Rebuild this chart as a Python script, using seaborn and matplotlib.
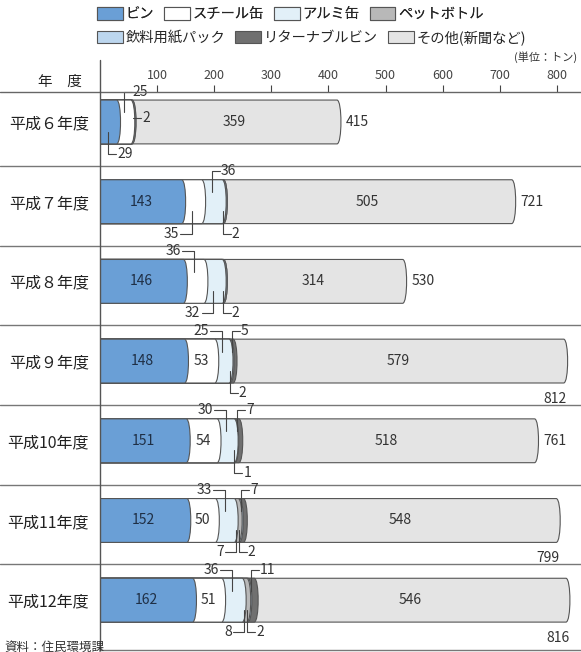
import matplotlib
matplotlib.use("Agg")
import matplotlib.pyplot as plt
import seaborn as sns
import pandas as pd
from matplotlib.patches import Patch, PathPatch, Rectangle
from matplotlib.path import Path
from matplotlib.lines import Line2D
from matplotlib.transforms import blended_transform_factory

# ---------------- data ----------------
years = ["平成６年度", "平成７年度", "平成８年度", "平成９年度", "平成10年度", "平成11年度", "平成12年度"]
series = ["ビン", "スチール缶", "アルミ缶", "ペットボトル", "飲料用紙パック", "リターナブルビン", "その他(新聞など)"]
bin_vals = [29, 143, 146, 148, 151, 152, 162]
steel_vals = [25, 35, 36, 53, 54, 50, 51]
alumi_vals = [0, 36, 32, 25, 30, 33, 36]
pet_vals = [0, 0, 0, 0, 0, 7, 8]
pack_vals = [2, 2, 2, 2, 1, 2, 2]
returnable_vals = [0, 0, 0, 5, 7, 7, 11]
other_vals = [359, 505, 314, 579, 518, 548, 546]
totals = [415, 721, 530, 812, 761, 799, 816]
ticks = [100, 200, 300, 400, 500, 600, 700, 800]

vals = [bin_vals, steel_vals, alumi_vals, pet_vals, pack_vals, returnable_vals, other_vals]
colors = ["#6a9fd6", "#ffffff", "#e2f0f8", "#b8b8b8", "#bcd6ee", "#707070", "#e4e4e4"]

# ---------------- figure ----------------
sns.set_style("white")
plt.rcParams["font.family"] = ["Noto Sans CJK JP", "DejaVu Sans"]

W, H = 581, 652
fig = plt.figure(figsize=(W / 100, H / 100), dpi=100)
ax = fig.add_axes([100 / W, 1 - 650 / H, 1 - 100 / W, (650 - 92) / H])

df = pd.DataFrame({"year": years})
cum = [0] * len(years)
cums = []
for k in range(len(series)):
    cum = [c + v for c, v in zip(cum, vals[k])]
    cums.append(cum)
for k in range(len(series) - 1, -1, -1):
    df["cum"] = cums[k]
    sns.barplot(data=df, x="cum", y="year", orient="h", color=colors[k],
                saturation=1, edgecolor="#555555", linewidth=0.8, width=0.55, ax=ax)

# give every bar a rounded (cylinder-like) right end
BULGE = 7.0
rects = [p for p in ax.patches if isinstance(p, Rectangle)]
for order, p in enumerate(rects):
    x0, y0, w, h = p.get_x(), p.get_y(), p.get_width(), p.get_height()
    x1 = x0 + w
    verts = [(x0, y0), (x1, y0), (x1 + BULGE * 1.33, y0), (x1 + BULGE * 1.33, y0 + h),
             (x1, y0 + h), (x0, y0 + h), (x0, y0)]
    codes = [Path.MOVETO, Path.LINETO, Path.CURVE4, Path.CURVE4, Path.CURVE4,
             Path.LINETO, Path.CLOSEPOLY]
    pp = PathPatch(Path(verts, codes), facecolor=p.get_facecolor(), edgecolor=p.get_edgecolor(),
                   linewidth=p.get_linewidth(), zorder=p.get_zorder() + order * 1e-3)
    p.remove()
    ax.add_patch(pp)

XMAX = 481 / 0.571
ax.set_xlim(0, XMAX)
ax.set_ylim(6.625, -0.376)
ax.set_xlabel("")
ax.set_ylabel("")
ax.xaxis.tick_top()
ax.set_xticks(ticks)
ax.set_xticklabels([str(t) for t in ticks])
ax.tick_params(axis="x", direction="out", length=5, width=0.8, colors="#444444",
               labelsize=9, pad=2, top=True, bottom=False)
ax.tick_params(axis="y", length=0, labelsize=11.5, pad=8, labelcolor="#222222")
for s in ["top", "right", "bottom"]:
    ax.spines[s].set_visible(False)
ax.spines["left"].set_color("#555555")
ax.spines["left"].set_linewidth(1)

# separators
trans = blended_transform_factory(fig.transFigure, ax.transData)
for k in range(len(years) - 1):
    ax.plot([0, 1], [k + 0.55, k + 0.55], transform=trans, color="#777777", lw=1, clip_on=False)
ax.plot([100 / W, 1], [6.62, 6.62], transform=trans, color="#777777", lw=1, clip_on=False)
fig.add_artist(Line2D([0, 1], [1 - 92 / H, 1 - 92 / H], color="#666666", lw=1))
fig.add_artist(Line2D([100 / W, 100 / W], [1 - 60 / H, 1 - 92 / H], color="#555555", lw=1))

# ---------------- labels ----------------
tc = "#333333"
fs = 10
for i in range(len(years)):
    lefts = [0]
    for k in range(len(series)):
        lefts.append(lefts[-1] + vals[k][i])
    ax.text((lefts[6] + lefts[7]) / 2, i, str(other_vals[i]), ha="center", va="center", fontsize=fs, color=tc)
    if i >= 1:
        ax.text(bin_vals[i] / 2, i, str(bin_vals[i]), ha="center", va="center", fontsize=fs, color="#1f2f45")
    if i >= 3:
        ax.text(lefts[1] + steel_vals[i] / 2 + 3, i, str(steel_vals[i]), ha="center", va="center", fontsize=fs, color=tc)

below_total = [3, 5, 6]
for i, t in enumerate(totals):
    if i in below_total:
        ax.text(t + 6, i + 0.47, str(t), ha="right", va="center", fontsize=fs, color=tc)
    else:
        ax.text(t + 16, i, str(t), ha="left", va="center", fontsize=fs, color=tc)

leaders = [
    (0, 1, "top", "right"), (0, 4, "mid", "right"), (0, 0, "bottom", "right"),
    (1, 2, "top", "right"), (1, 1, "bottom", "left"), (1, 4, "bottom", "right"),
    (2, 1, "top", "left"), (2, 2, "bottom", "left"), (2, 4, "bottom", "right"),
    (3, 2, "top", "left"), (3, 5, "top", "right"), (3, 4, "bottom", "right"),
    (4, 2, "top", "left"), (4, 5, "top", "right"), (4, 4, "bottom", "right"),
    (5, 2, "top", "left"), (5, 5, "top", "right"), (5, 3, "bottom", "left"), (5, 4, "bottom", "right"),
    (6, 2, "top", "left"), (6, 5, "top", "right"), (6, 3, "bottom", "left"), (6, 4, "bottom", "right"),
]
lc = "#444444"
for i, k, side, d in leaders:
    left = sum(vals[j][i] for j in range(k))
    xm = left + vals[k][i] / 2
    v = vals[k][i]
    L = 14 if d == "right" else 20
    x2 = xm + L if d == "right" else xm - L
    if side == "mid":
        yl = i - 0.05
        ax.plot([xm + 3, x2 + 3], [yl, yl], color=lc, lw=0.8, zorder=5)
        x2 = x2 + 3
    else:
        yin = i - 0.12 if side == "top" else i + 0.12
        yl = i - 0.38 if side == "top" else i + 0.40
        ax.plot([xm, xm, x2], [yin, yl, yl], color=lc, lw=0.8, clip_on=False, zorder=5)
    if d == "right":
        ax.text(x2 + 2, yl, str(v), ha="left", va="center", fontsize=fs, color=tc, zorder=6)
    else:
        ax.text(x2 - 2, yl, str(v), ha="right", va="center", fontsize=fs, color=tc, zorder=6)

# header texts
fig.text(60 / W, 1 - 82 / H, "年　度", ha="center", va="center", fontsize=10.5, color="#222222")
fig.text(577 / W, 1 - 57 / H, "(単位：トン)", ha="right", va="center", fontsize=8, color="#333333")
fig.text(4 / W, 1 - 647 / H, "資料：住民環境課", ha="left", va="center", fontsize=9, color="#333333")

# legends
handles = [Patch(facecolor=c, edgecolor="#555555", linewidth=0.8) for c in colors]
kw = dict(loc="upper left", frameon=False, fontsize=10.3, handlelength=1.8, handleheight=1.0,
          handletextpad=0.2, columnspacing=0.7, borderpad=0, borderaxespad=0)
leg1 = fig.legend(handles[:4], series[:4], ncol=4, bbox_to_anchor=(97 / W, 1 - 7 / H), **kw)
fig.add_artist(leg1)
leg2 = fig.legend(handles[4:], series[4:], ncol=3, bbox_to_anchor=(97 / W, 1 - 30 / H), **kw)

fig.savefig("out.png", dpi=100)
